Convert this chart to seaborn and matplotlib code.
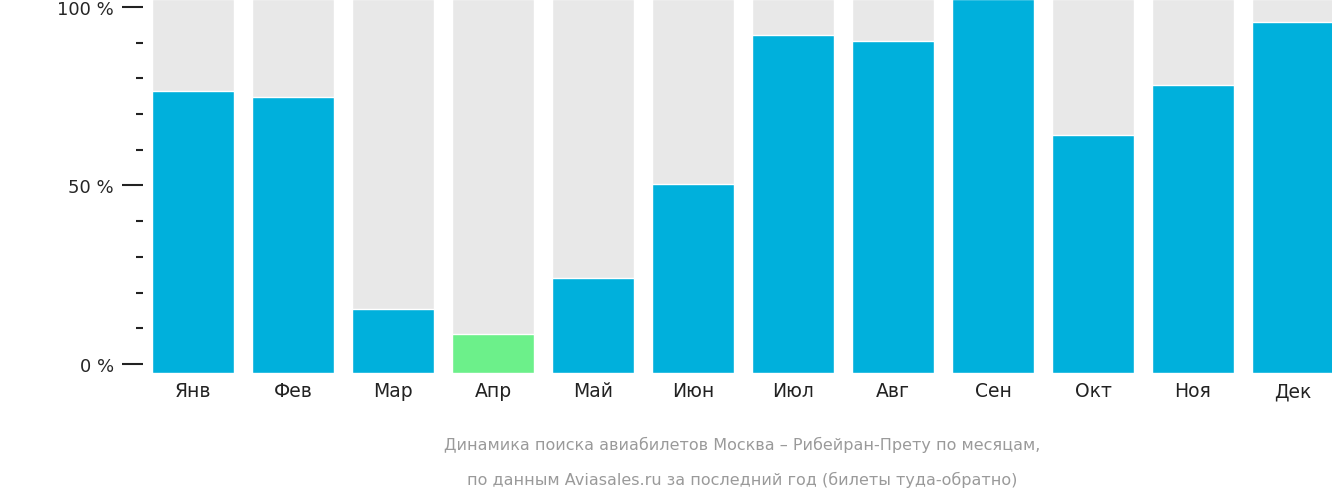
import matplotlib
matplotlib.use("Agg")
import matplotlib.pyplot as plt
import seaborn as sns
import pandas as pd
from matplotlib.ticker import MultipleLocator

months = ["Янв", "Фев", "Мар", "Апр", "Май", "Июн", "Июл", "Авг", "Сен", "Окт", "Ноя", "Дек"]
values = [76.5, 74.8, 15.4, 8.4, 24.1, 50.4, 92.2, 90.5, 102.2, 64.1, 78.2, 95.8]
highlight = "Апр"
caption = ["Динамика поиска авиабилетов Москва – Рибейран-Прету по месяцам,",
           "по данным Aviasales.ru за последний год (билеты туда-обратно)"]

plt.rcParams["font.family"] = "Open Sans"
sns.set_style("white")

BLUE, GREEN, GREY = "#00b0dc", "#6cf08a", "#e8e8e8"
Y0, YTOP = -2.5, 102.2

df = pd.DataFrame({"month": months, "value": values, "full": [YTOP] * len(months)})
colors = [GREEN if m == highlight else BLUE for m in months]

fig = plt.figure(figsize=(13.32, 5.02), dpi=100)
ax = fig.add_axes([143 / 1332, 128 / 502, 1200 / 1332, 374 / 502])

sns.barplot(data=df, x="month", y="full", color=GREY, width=0.82, ax=ax, saturation=1)
sns.barplot(data=df, x="month", y="value", hue="month", palette=colors, legend=False,
            width=0.82, ax=ax, saturation=1)
for p in ax.patches:
    h = p.get_height()
    p.set_y(Y0)
    p.set_height(h - Y0)

ax.set_xlim(-0.5, 11.5)
ax.set_ylim(Y0, YTOP)
ax.set_yticks([0, 50, 100])
ax.set_yticklabels(["0 %", "50 %", "100 %"])
ax.yaxis.set_minor_locator(MultipleLocator(10))
ax.tick_params(axis="y", which="major", length=15, width=1.5, color="#222", labelsize=13, pad=6, left=True)
ax.tick_params(axis="y", which="minor", length=5, width=1.5, color="#222", left=True)
ax.tick_params(axis="x", length=0, labelsize=13.5, pad=6, colors="#222")
ax.set_xlabel("")
ax.set_ylabel("")
for s in ax.spines.values():
    s.set_visible(False)

fig.text(742 / 1332, 1 - 445 / 502, caption[0], ha="center", va="center", fontsize=11.5, color="#9a9a9a")
fig.text(742 / 1332, 1 - 480 / 502, caption[1], ha="center", va="center", fontsize=11.5, color="#9a9a9a")

fig.savefig("out.png", dpi=100)
